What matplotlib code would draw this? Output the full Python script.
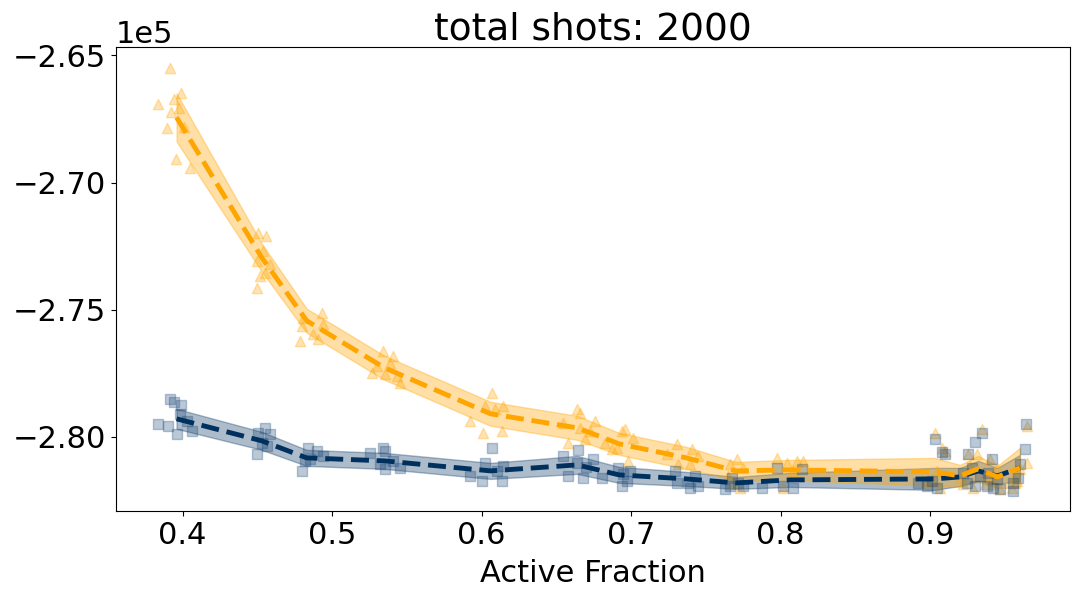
import matplotlib
matplotlib.use('Agg')
import matplotlib.pyplot as plt
import numpy as np

# mean curve positions (active fraction) shared by both runs
frac_mean = [0.396, 0.453, 0.483, 0.535, 0.606, 0.664, 0.692, 0.737,
             0.770, 0.806, 0.903, 0.920, 0.932, 0.945, 0.960]

# orange run (triangles)
orange_mean = [-267441, -272953, -275433, -277283, -279094, -279646, -280276, -280827,
               -281338, -281299, -281378, -281535, -281259, -281575, -281220]
orange_err = [950, 551, 472, 472, 472, 472, 433, 433, 354, 394, 551, 433, 512, 433, 787]

# navy run (squares)
navy_mean = [-279291, -280157, -280826, -280945, -281338, -281102, -281496, -281653,
             -281811, -281693, -281653, -281575, -281338, -281535, -281220]
navy_err = [394, 354, 315, 315, 315, 354, 315, 276, 236, 276, 433, 354, 394, 315, 512]

# individual samples
orange_x = [0.3913, 0.3987, 0.3946, 0.3839, 0.3926, 0.3973, 0.3893, 0.3953, 0.4047, 0.4013,
            0.4502, 0.4556, 0.4535, 0.4495, 0.4582, 0.4515, 0.4495, 0.4549,
            0.4930, 0.4803, 0.4797, 0.4870, 0.4783, 0.4937, 0.4904,
            0.5339, 0.5406, 0.5265, 0.5352, 0.5432, 0.5452, 0.5299, 0.5386,
            0.6068, 0.5921, 0.6008, 0.6021, 0.6142, 0.6135, 0.6088,
            0.6637, 0.6657, 0.6543, 0.6657, 0.6758, 0.6577, 0.6691, 0.6724,
            0.6825, 0.6938, 0.6958, 0.6905, 0.6979, 0.7012, 0.6871,
            0.7307, 0.7240, 0.7407, 0.7394, 0.7447, 0.7313,
            0.7661, 0.7708, 0.7748, 0.7648, 0.7728, 0.7675,
            0.7976, 0.8043, 0.8110, 0.8150, 0.8016, 0.8083,
            0.9033, 0.9080, 0.9100, 0.9013, 0.9067, 0.9047, 0.8980,
            0.9254, 0.9201, 0.9288, 0.9221, 0.9268,
            0.9348, 0.9315, 0.9402, 0.9368, 0.9415,
            0.9422, 0.9448, 0.9382, 0.9469,
            0.9649, 0.9649, 0.9556, 0.9549, 0.9602, 0.9582]
orange_y = [-265512, -266496, -266732, -266929, -267244, -267087, -267874, -269094, -269449, -267835,
            -271968, -272087, -272677, -273071, -273189, -273661, -274134, -273543,
            -275118, -275315, -275630, -275945, -276220, -275551, -276142,
            -276614, -276811, -277480, -277520, -277598, -277874, -277205, -277087,
            -278268, -279370, -279842, -278780, -278780, -279764, -278898,
            -278898, -279055, -279449, -279646, -279370, -280236, -280079, -279764,
            -280236, -279764, -279685, -280433, -280945, -280039, -280472,
            -280276, -280669, -280472, -281063, -280748, -281063,
            -281063, -280866, -281220, -281535, -282008, -281811,
            -280827, -281024, -280945, -280945, -282008, -281338,
            -279842, -280433, -280551, -281732, -282008, -281338, -281850,
            -280669, -281614, -282008, -281850, -281142,
            -279685, -280669, -280866, -281850, -281653,
            -281850, -281220, -281456, -282047,
            -279567, -281024, -281614, -282008, -281259, -281732]

navy_x = [0.3913, 0.3946, 0.3987, 0.3839, 0.3900, 0.3960, 0.4060, 0.3980, 0.4027,
          0.4502, 0.4549, 0.4582, 0.4495, 0.4529, 0.4562,
          0.4837, 0.4897, 0.4797, 0.4817, 0.4937, 0.4850,
          0.5252, 0.5339, 0.5352, 0.5352, 0.5452, 0.5319, 0.5406,
          0.6068, 0.6021, 0.5921, 0.6001, 0.6135, 0.6142, 0.6102,
          0.6543, 0.6644, 0.6744, 0.6577, 0.6677, 0.6637, 0.6697,
          0.6805, 0.6912, 0.6972, 0.6945, 0.6992, 0.6938,
          0.7293, 0.7307, 0.7380, 0.7427, 0.7394, 0.7447,
          0.7628, 0.7675, 0.7715, 0.7748, 0.7661,
          0.7876, 0.7976, 0.8016, 0.8083, 0.8143,
          0.9033, 0.9080, 0.9100, 0.8920, 0.8980, 0.9047, 0.9013,
          0.9254, 0.9221, 0.9301, 0.9248, 0.9281,
          0.9348, 0.9301, 0.9415, 0.9382, 0.9335,
          0.9422, 0.9448, 0.9388, 0.9469,
          0.9643, 0.9636, 0.9602, 0.9556, 0.9556, 0.9589]
navy_y = [-278504, -278622, -278740, -279488, -279567, -279882, -279764, -279094, -279370,
          -279842, -279646, -279882, -280669, -280236, -280354,
          -280433, -280551, -281338, -280945, -280748, -280866,
          -280630, -280433, -280551, -281260, -281220, -281063, -280945,
          -280433, -281024, -281535, -281732, -281732, -281142, -281338,
          -280748, -280512, -280866, -281535, -281614, -281024, -281181,
          -281614, -281220, -281732, -281456, -281338, -281929,
          -281338, -281811, -281811, -281535, -282008, -281929,
          -282047, -281614, -281811, -281929, -281929,
          -282008, -281220, -281929, -282008, -281259,
          -280079, -280590, -280669, -281811, -281929, -282008, -281732,
          -280669, -281417, -281929, -281811, -281220,
          -279842, -280197, -280866, -281929, -281535,
          -282008, -281653, -281417, -282047,
          -279488, -280472, -281063, -281811, -282126, -281614]

orange_c = '#FFA500'
navy_c = '#00305E'

fig, ax = plt.subplots(figsize=(10.8, 5.99), dpi=100)
fig.subplots_adjust(left=0.107, right=0.991, top=0.921, bottom=0.147)

fm = np.array(frac_mean)
om, oe = np.array(orange_mean), np.array(orange_err)
nm, ne = np.array(navy_mean), np.array(navy_err)

ax.fill_between(fm, nm - ne, nm + ne, color=navy_c, alpha=0.32, linewidth=1, zorder=1)
ax.fill_between(fm, om - oe, om + oe, color=orange_c, alpha=0.35, linewidth=1, zorder=1)

ax.scatter(orange_x, orange_y, marker='^', s=55, color=orange_c, alpha=0.3, zorder=2)
ax.scatter(navy_x, navy_y, marker='s', s=55, color='#1F4A7A', alpha=0.3, zorder=2)

ax.plot(fm, nm, '--', color=navy_c, linewidth=3.5, zorder=3)
ax.plot(fm, om, '--', color=orange_c, linewidth=3.5, zorder=3)

ax.ticklabel_format(axis='y', style='sci', scilimits=(0, 0))
ax.set_yticks([-265000, -270000, -275000, -280000])
ax.set_ylim(-282913, -264685)
ax.set_xlim(0.3552, 0.9937)
ax.tick_params(labelsize=22)
ax.yaxis.get_offset_text().set_fontsize(22)
ax.set_xlabel('Active Fraction', fontsize=22, labelpad=7)
ax.set_title('total shots: 2000', fontsize=27, pad=4)

plt.savefig('out.png')
